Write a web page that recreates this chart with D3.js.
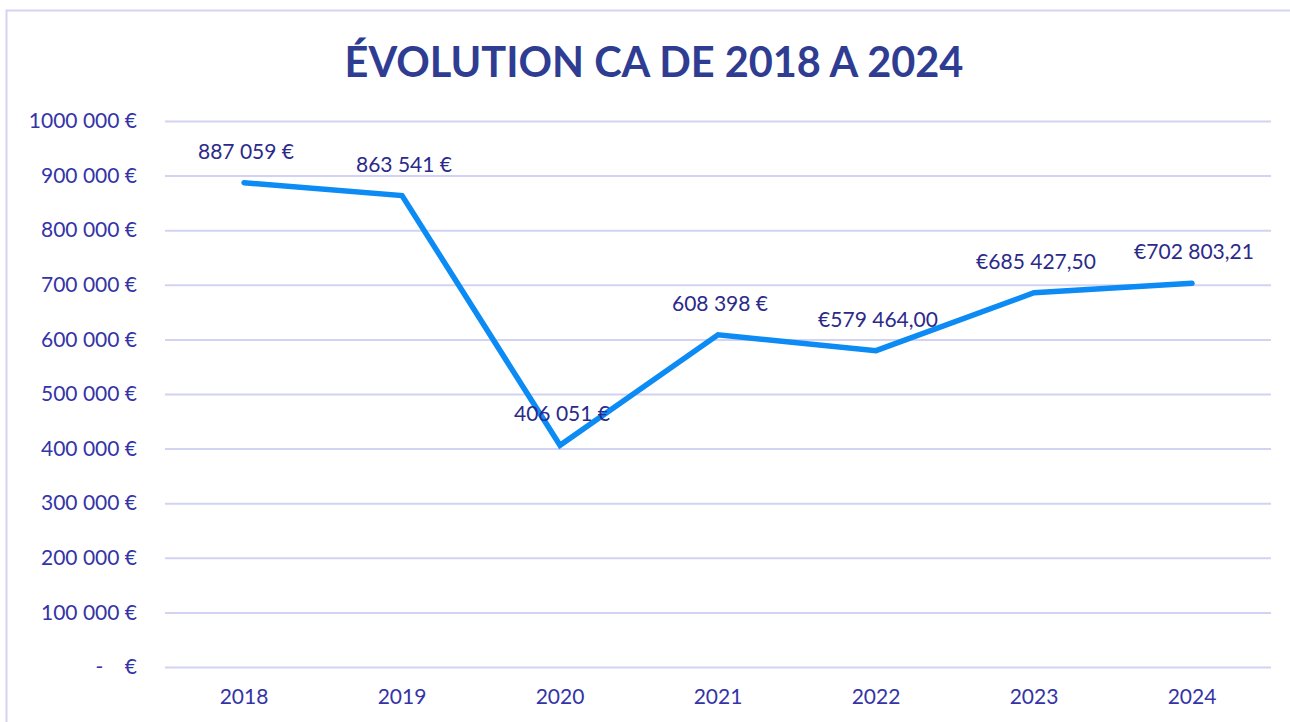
<!DOCTYPE html>
<html>
<head>
<meta charset="utf-8">
<script src="https://cdn.jsdelivr.net/npm/d3@7"></script>
<style>
  body { margin: 0; background: #fff; }
  svg { display: block; }
</style>
</head>
<body>
<div id="chart"></div>
<script>
// chart data
var years = ["2018", "2019", "2020", "2021", "2022", "2023", "2024"];
var revenue = [887059, 863541, 406051, 608398, 579464, 685427.5, 702803.21];
var valueLabels = ["887 059 €", "863 541 €", "406 051 €", "608 398 €", "€579 464,00", "€685 427,50", "€702 803,21"];
var yTicks = [0, 100000, 200000, 300000, 400000, 500000, 600000, 700000, 800000, 900000, 1000000];
var yTickLabels = ["-\u00a0\u00a0\u00a0\u00a0€", "100 000 €", "200 000 €", "300 000 €", "400 000 €", "500 000 €", "600 000 €", "700 000 €", "800 000 €", "900 000 €", "1000 000 €"];

var width = 1290, height = 722;
var m = { top: 121, right: 19, bottom: 55, left: 165 };

var svg = d3.select("#chart").append("svg")
  .attr("width", width)
  .attr("height", height);

// chart area border (only top + left visible in the crop)
svg.append("rect")
  .attr("x", 6.5).attr("y", 10.5)
  .attr("width", width + 20).attr("height", height + 20)
  .attr("fill", "none")
  .attr("stroke", "#d4d4f2")
  .attr("stroke-width", 2);

svg.append("text")
  .attr("x", 654)
  .attr("y", 77)
  .attr("text-anchor", "middle")
  .attr("font-family", "Lato, 'Open Sans', sans-serif")
  .attr("font-weight", "bold")
  .attr("font-size", 41.5)
  .attr("fill", "#2e3d91")
  .text("ÉVOLUTION CA DE 2018 A 2024");

var x = d3.scaleBand()
  .domain(years)
  .range([m.left, width - m.right]);

var y = d3.scaleLinear()
  .domain([0, 1000000])
  .range([height - m.bottom, m.top]);

// gridlines
var yAxis = d3.axisLeft(y)
  .tickValues(yTicks)
  .tickSize(-(width - m.right - m.left))
  .tickPadding(28)
  .tickFormat(function(d, i) { return yTickLabels[i]; });

var gy = svg.append("g")
  .attr("transform", "translate(" + m.left + ",0)")
  .call(yAxis);
gy.select(".domain").remove();
gy.selectAll(".tick line")
  .attr("stroke", "#d2d2f2")
  .attr("stroke-width", 2);
gy.selectAll(".tick text")
  .attr("font-family", "Lato, 'Open Sans', sans-serif")
  .attr("font-size", 21)
  .attr("fill", "#3434a8");

var xAxis = d3.axisBottom(x).tickSize(0).tickPadding(22);
var gx = svg.append("g")
  .attr("transform", "translate(0," + (height - m.bottom) + ")")
  .call(xAxis);
gx.select(".domain").remove();
gx.selectAll(".tick text")
  .attr("font-family", "Lato, 'Open Sans', sans-serif")
  .attr("font-size", 21)
  .attr("fill", "#3434a8");

var cx = function(d, i) { return x(years[i]) + x.bandwidth() / 2; };

var line = d3.line()
  .x(cx)
  .y(function(d) { return y(d); });

svg.append("path")
  .datum(revenue)
  .attr("d", line)
  .attr("fill", "none")
  .attr("stroke", "#0b8bf3")
  .attr("stroke-width", 5.5)
  .attr("stroke-linejoin", "miter")
  .attr("stroke-linecap", "round");

// value labels above each point
svg.append("g").selectAll("text")
  .data(revenue)
  .enter().append("text")
  .attr("x", function(d, i) { return cx(d, i) + 2; })
  .attr("y", function(d) { return y(d) - 24; })
  .attr("text-anchor", "middle")
  .attr("font-family", "Lato, 'Open Sans', sans-serif")
  .attr("font-size", 21)
  .attr("fill", "#2b2a8a")
  .text(function(d, i) { return valueLabels[i]; });
</script>
</body>
</html>
